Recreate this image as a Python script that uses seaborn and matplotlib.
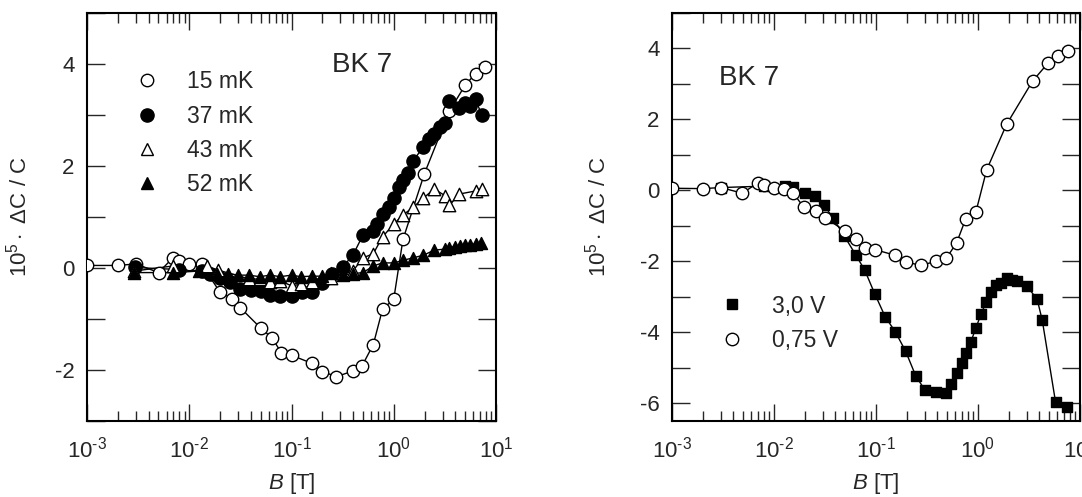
import numpy as np
import pandas as pd
import matplotlib
matplotlib.use('Agg')
import matplotlib.pyplot as plt
import seaborn as sns
from matplotlib.lines import Line2D
from matplotlib.ticker import LogLocator, MultipleLocator, FuncFormatter

# left panel: temperature series (log10 B, 10^5 dC/C)
lg_15 = [-3.0, -2.70, -2.52, -2.30, -2.16, -2.10, -2.0, -1.88, -1.70, -1.58, -1.50, -1.30, -1.19, -1.10,
         -1.0, -0.80, -0.70, -0.56, -0.40, -0.31, -0.20, -0.11, 0.0, 0.09, 0.30, 0.545, 0.70, 0.80, 0.89]
v_15 = [0.05, 0.05, 0.08, -0.09, 0.20, 0.14, 0.08, 0.07, -0.47, -0.60, -0.78, -1.18, -1.37, -1.66,
        -1.71, -1.87, -2.03, -2.13, -2.02, -1.92, -1.50, -0.81, -0.61, 0.56, 1.85, 3.08, 3.59, 3.81, 3.94]

lg_37 = [-2.53, -2.10, -1.88, -1.80, -1.70, -1.60, -1.50, -1.40, -1.30, -1.21, -1.11, -1.0, -0.90, -0.80,
         -0.70, -0.60, -0.50, -0.40, -0.30, -0.20, -0.16, -0.11, -0.05, 0.0, 0.05, 0.09, 0.14, 0.19, 0.29,
         0.34, 0.395, 0.45, 0.50, 0.545, 0.64, 0.70, 0.75, 0.80, 0.86]
v_37 = [0.01, -0.03, -0.06, -0.12, -0.19, -0.27, -0.42, -0.44, -0.45, -0.52, -0.54, -0.55, -0.47, -0.47,
        -0.29, -0.11, 0.02, 0.25, 0.65, 0.73, 0.86, 1.05, 1.20, 1.37, 1.58, 1.72, 1.87, 2.10, 2.38,
        2.52, 2.63, 2.76, 2.85, 3.27, 3.14, 3.24, 3.18, 3.31, 3.00]

lg_43 = [-2.54, -2.16, -1.83, -1.72, -1.42, -1.31, -1.21, -1.11, -1.0, -0.91, -0.80, -0.61, -0.40, -0.30,
         -0.20, -0.11, 0.0, 0.09, 0.19, 0.29, 0.395, 0.50, 0.545, 0.64, 0.80, 0.86]
v_43 = [-0.06, 0.04, 0.04, -0.04, -0.21, -0.22, -0.27, -0.25, -0.35, -0.32, -0.27, -0.19, -0.06, 0.20,
        0.28, 0.61, 0.86, 1.04, 1.19, 1.37, 1.55, 1.42, 1.23, 1.45, 1.51, 1.54]

lg_52 = [-2.54, -2.16, -1.90, -1.73, -1.62, -1.52, -1.42, -1.31, -1.21, -1.11, -1.0, -0.91, -0.80, -0.70,
         -0.61, -0.50, -0.40, -0.30, -0.20, -0.11, 0.0, 0.09, 0.19, 0.29, 0.395, 0.50, 0.545, 0.60, 0.65,
         0.70, 0.75, 0.80, 0.85]
v_52 = [-0.09, -0.09, -0.06, -0.11, -0.11, -0.14, -0.14, -0.17, -0.14, -0.17, -0.14, -0.17, -0.16, -0.16,
        -0.09, -0.14, -0.11, -0.09, 0.04, 0.10, 0.10, 0.15, 0.20, 0.25, 0.35, 0.37, 0.40, 0.42, 0.44,
        0.46, 0.46, 0.47, 0.49]

# right panel: voltage series
lg_075 = [-3.0, -2.70, -2.52, -2.31, -2.16, -2.10, -2.0, -1.90, -1.81, -1.71, -1.59, -1.50, -1.30, -1.20,
          -1.11, -1.01, -0.81, -0.71, -0.56, -0.41, -0.31, -0.21, -0.12, -0.02, 0.085, 0.28, 0.535, 0.69,
          0.785, 0.88]
v_075 = [0.06, 0.05, 0.08, -0.08, 0.21, 0.16, 0.06, 0.05, -0.08, -0.47, -0.59, -0.77, -1.15, -1.36,
         -1.63, -1.67, -1.83, -2.02, -2.11, -2.0, -1.91, -1.48, -0.80, -0.60, 0.58, 1.86, 3.08, 3.60,
         3.80, 3.94]

lg_30 = [-2.52, -2.10, -1.89, -1.81, -1.70, -1.60, -1.51, -1.42, -1.31, -1.20, -1.11, -1.01, -0.91, -0.81,
         -0.71, -0.61, -0.52, -0.41, -0.31, -0.26, -0.21, -0.16, -0.12, -0.07, -0.02, 0.03, 0.08, 0.13,
         0.18, 0.23, 0.28, 0.33, 0.38, 0.48, 0.58, 0.63, 0.76, 0.875]
v_30 = [0.08, 0.12, 0.12, 0.09, -0.06, -0.17, -0.41, -0.79, -1.29, -1.81, -2.25, -2.93, -3.56, -3.99,
        -4.53, -5.23, -5.63, -5.68, -5.70, -5.46, -5.15, -4.86, -4.58, -4.27, -3.87, -3.49, -3.14, -2.85,
        -2.66, -2.60, -2.48, -2.53, -2.55, -2.70, -3.07, -3.66, -5.96, -6.10]

left_series = [('15 mK', lg_15, v_15, 'o', 'white', 80),
               ('37 mK', lg_37, v_37, 'o', 'black', 90),
               ('43 mK', lg_43, v_43, '^', 'white', 80),
               ('52 mK', lg_52, v_52, '^', 'black', 75)]
right_series = [('3,0 V', lg_30, v_30, 's', 'black', 60),
                ('0,75 V', lg_075, v_075, 'o', 'white', 80)]

sns.set_style('ticks')
plt.rcParams['font.family'] = ['Liberation Sans', 'DejaVu Sans']
plt.rcParams['mathtext.fontset'] = 'custom'
plt.rcParams['mathtext.rm'] = 'Liberation Sans'
plt.rcParams['mathtext.it'] = 'Liberation Sans:italic'
plt.rcParams['axes.unicode_minus'] = False

fig = plt.figure(figsize=(10.82, 4.97), dpi=100)
ax1 = fig.add_axes([87 / 1082, 1 - 421 / 497, 409 / 1082, 408 / 497])
ax2 = fig.add_axes([672 / 1082, 1 - 421 / 497, 408 / 1082, 408 / 497])


def draw(ax, series):
    handles = []
    for lab, lg, v, mk, fc, s in series:
        df = pd.DataFrame({'B': 10 ** np.array(lg), 'v': v})
        sns.lineplot(data=df, x='B', y='v', ax=ax, color='black', lw=1.0, sort=False,
                     estimator=None, zorder=1)
        sns.scatterplot(data=df, x='B', y='v', ax=ax, marker=mk, color=fc, edgecolor='black',
                        linewidth=1.0, s=s, zorder=3, legend=False)
        handles.append(Line2D([], [], ls='none', marker=mk, markersize=np.sqrt(s),
                              markerfacecolor=fc, markeredgecolor='black', markeredgewidth=1.0,
                              label=lab))
    return handles


h1 = draw(ax1, left_series)
h2 = draw(ax2, right_series)

even_fmt = FuncFormatter(lambda v, p: '%d' % round(v) if round(v) % 2 == 0 else '')
dec_fmt = FuncFormatter(lambda v, p: '10$^{\\text{%d}}$' % round(np.log10(v)))
for ax, ylim in [(ax1, (-3, 5)), (ax2, (-6.5, 5))]:
    ax.set_xscale('log')
    ax.set_xlim(1e-3, 10)
    ax.set_ylim(*ylim)
    ax.xaxis.set_major_locator(LogLocator(base=10))
    ax.xaxis.set_minor_locator(LogLocator(base=10, subs=np.arange(2, 10)))
    ax.xaxis.set_major_formatter(dec_fmt)
    ax.yaxis.set_major_locator(MultipleLocator(1))
    ax.yaxis.set_major_formatter(even_fmt)
    ax.tick_params(which='both', direction='in', top=True, right=True, labelsize=16, width=1)
    ax.tick_params(axis='x', which='major', length=12, pad=11)
    ax.tick_params(axis='x', which='minor', length=7)
    ax.tick_params(axis='y', which='major', length=13, pad=9)
    for sp in ax.spines.values():
        sp.set_linewidth(1.5)
        sp.set_color('black')
    ax.set_xlabel('$B$ [T]', fontsize=16, labelpad=6)
    ax.set_ylabel('10$^5\\cdot$ ΔC / C', fontsize=16)

ax1.yaxis.set_label_coords(-0.135, 0.5)
ax2.yaxis.set_label_coords(-0.15, 0.5)

ax1.text(0.672, 0.873, 'BK 7', transform=ax1.transAxes, fontsize=20, ha='center', va='center')
ax2.text(0.19, 0.84, 'BK 7', transform=ax2.transAxes, fontsize=20, ha='center', va='center')

for ax, anchor, hs in [(ax1, (0.105, 0.86), h1), (ax2, (0.105, 0.31), h2)]:
    ax.legend(handles=hs, frameon=False, loc='upper left', bbox_to_anchor=anchor, borderaxespad=0,
              borderpad=0, fontsize=16.5, handlelength=1.5, handletextpad=1.0,
              labelspacing=0.5)

fig.savefig('out.png', dpi=100)
